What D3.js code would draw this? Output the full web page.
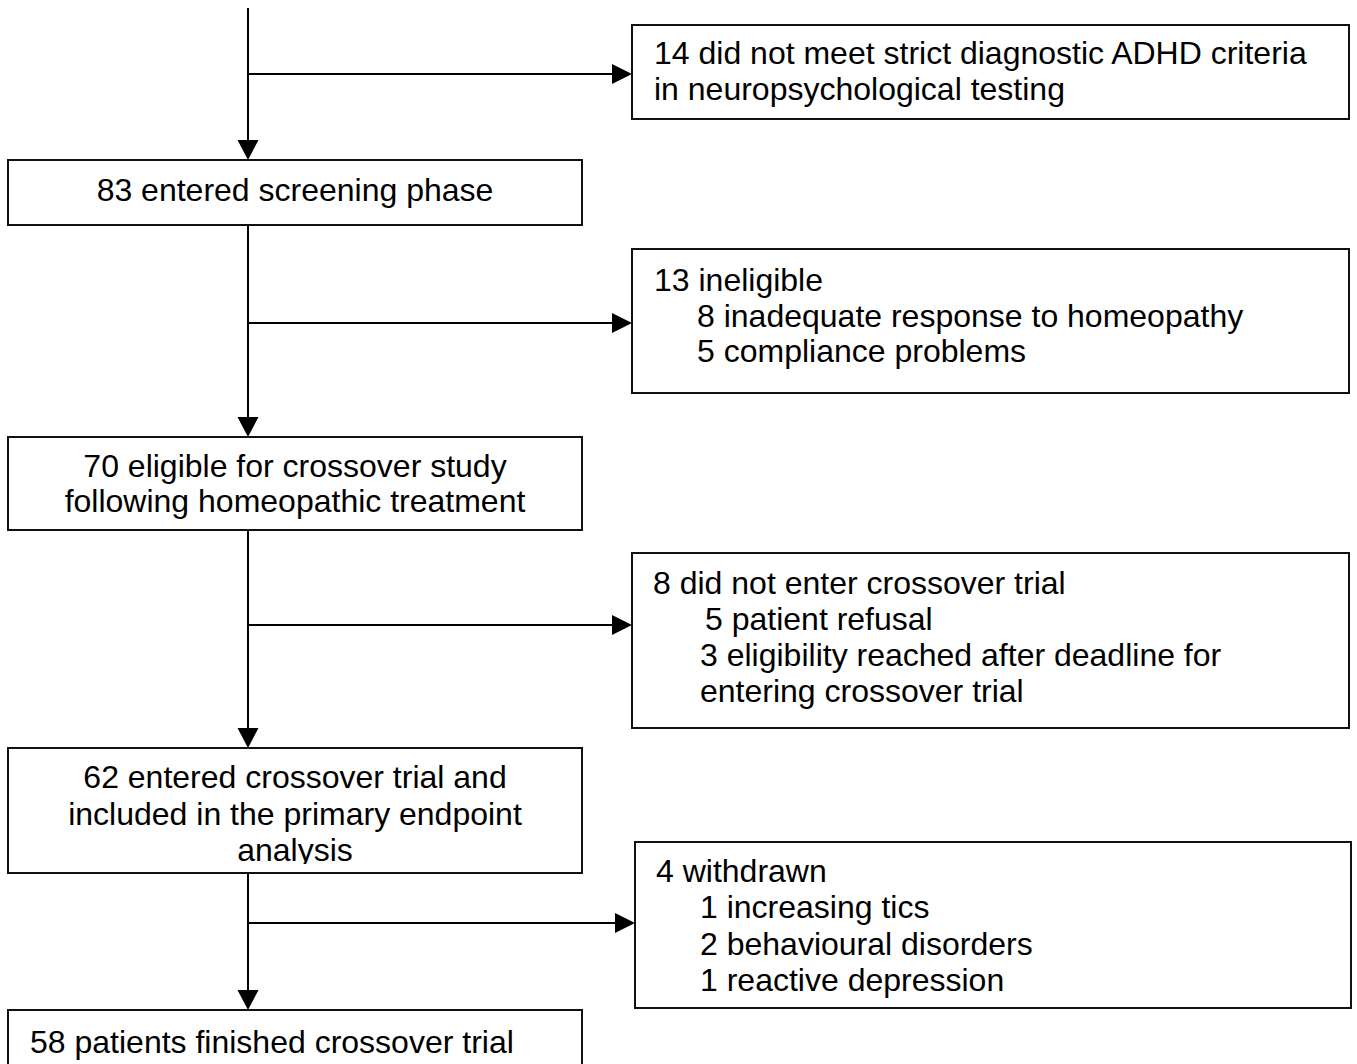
<!DOCTYPE html>
<html>
<head>
<meta charset="utf-8">
<script src="https://cdn.jsdelivr.net/npm/d3@7"></script>
<style>
  html, body { margin: 0; padding: 0; background: #fff; }
  svg { display: block; }
  text { font-family: "Liberation Sans", Arial, sans-serif; font-size: 32px; fill: #000; }
</style>
</head>
<body>
<script>
// ---- content (flow stages) ----
const mainLabels = [
  ["83 entered screening phase"],
  ["70 eligible for crossover study", "following homeopathic treatment"],
  ["62 entered crossover trial and", "included in the primary endpoint", "analysis"],
  ["58 patients finished crossover trial"]
];
const mainCounts = [83, 70, 62, 58];
const sideLabels = [
  ["14 did not meet strict diagnostic ADHD criteria", "in neuropsychological testing"],
  ["13 ineligible", "8 inadequate response to homeopathy", "5 compliance problems"],
  ["8 did not enter crossover trial", "5 patient refusal", "3 eligibility reached after deadline for", "entering crossover trial"],
  ["4 withdrawn", "1 increasing tics", "2 behavioural disorders", "1 reactive depression"]
];
const sideCounts = [14, 13, 8, 4];

// ---- layout (positions & styles) ----
const W = 1357, H = 1064;
const mainLayout = [
  { x0: 8, x1: 582, y0: 160, y1: 225, anchor: "middle", baselines: [201] },
  { x0: 8, x1: 582, y0: 437, y1: 530, anchor: "middle", baselines: [477, 512] },
  { x0: 8, x1: 582, y0: 748, y1: 873, anchor: "middle", baselines: [788, 825, 861], clip: true },
  { x0: 8, x1: 582, y0: 1010, y1: 1090, anchor: "start", textX: 30, baselines: [1053] }
];
const sideLayout = [
  { x0: 632, x1: 1349, y0: 25, y1: 119, branchY: 74, textX: [654, 654], baselines: [64, 100] },
  { x0: 632, x1: 1349, y0: 249, y1: 393, branchY: 323, textX: [654, 697], baselines: [291, 327, 362] },
  { x0: 632, x1: 1349, y0: 553, y1: 728, branchY: 625, textX: [653, 705, 700, 700], baselines: [594, 630, 666, 702] },
  { x0: 635, x1: 1351, y0: 842, y1: 1008, branchY: 923, textX: [656, 700, 700, 700], baselines: [882, 918, 955, 991] }
];
const spineX = 248, spineTop = 8;

const svg = d3.select("body").append("svg").attr("width", W).attr("height", H);
const defs = svg.append("defs");

const x = d3.scaleIdentity().domain([0, W]);
const y = d3.scaleIdentity().domain([0, H]);

function arrowDown(g, tipX, tipY) {
  g.append("path")
    .attr("d", `M${x(tipX) - 10.5},${y(tipY) - 20} L${x(tipX) + 10.5},${y(tipY) - 20} L${x(tipX)},${y(tipY)} Z`)
    .attr("fill", "#000");
}
function arrowRight(g, tipX, tipY) {
  g.append("path")
    .attr("d", `M${x(tipX) - 20},${y(tipY) - 10} L${x(tipX) - 20},${y(tipY) + 10} L${x(tipX)},${y(tipY)} Z`)
    .attr("fill", "#000");
}

const lines = svg.append("g");
// vertical spine segments
const spineStarts = [spineTop].concat(mainLayout.slice(0, 3).map(d => d.y1));
spineStarts.forEach((s, i) => {
  const end = mainLayout[i].y0;
  lines.append("line")
    .attr("x1", x(spineX)).attr("x2", x(spineX))
    .attr("y1", y(s)).attr("y2", y(end) - 18)
    .attr("stroke", "#000").attr("stroke-width", 2);
  arrowDown(lines, spineX, end);
});
// branches
sideLayout.forEach(d => {
  lines.append("line")
    .attr("x1", x(spineX)).attr("x2", x(d.x0) - 18)
    .attr("y1", y(d.branchY)).attr("y2", y(d.branchY))
    .attr("stroke", "#000").attr("stroke-width", 2);
  arrowRight(lines, d.x0, d.branchY);
});

// main boxes
mainLabels.forEach((lbl, i) => {
  const L = mainLayout[i];
  const g = svg.append("g").attr("class", "main-box").datum(mainCounts[i]);
  g.append("rect")
    .attr("x", x(L.x0)).attr("y", y(L.y0))
    .attr("width", x(L.x1) - x(L.x0)).attr("height", y(L.y1) - y(L.y0))
    .attr("fill", "#fff").attr("stroke", "#111").attr("stroke-width", 2);
  let tg = g.append("g");
  if (L.clip) {
    const id = "clip" + i;
    defs.append("clipPath").attr("id", id).append("rect")
      .attr("x", L.x0).attr("y", L.y0).attr("width", L.x1 - L.x0).attr("height", L.y1 - L.y0 - 9);
    tg.attr("clip-path", `url(#${id})`);
  }
  tg.selectAll("text").data(lbl).join("text")
    .attr("x", L.anchor === "middle" ? x((L.x0 + L.x1) / 2) : x(L.textX))
    .attr("y", (t, j) => y(L.baselines[j]))
    .attr("text-anchor", L.anchor)
    .text(t => t);
});

// side boxes
sideLabels.forEach((lbl, i) => {
  const L = sideLayout[i];
  const g = svg.append("g").attr("class", "side-box").datum(sideCounts[i]);
  g.append("rect")
    .attr("x", x(L.x0)).attr("y", y(L.y0))
    .attr("width", x(L.x1) - x(L.x0)).attr("height", y(L.y1) - y(L.y0))
    .attr("fill", "#fff").attr("stroke", "#111").attr("stroke-width", 2);
  g.selectAll("text").data(lbl).join("text")
    .attr("x", (t, j) => x(L.textX[Math.min(j, L.textX.length - 1)]))
    .attr("y", (t, j) => y(L.baselines[j]))
    .text(t => t);
});
</script>
</body>
</html>
